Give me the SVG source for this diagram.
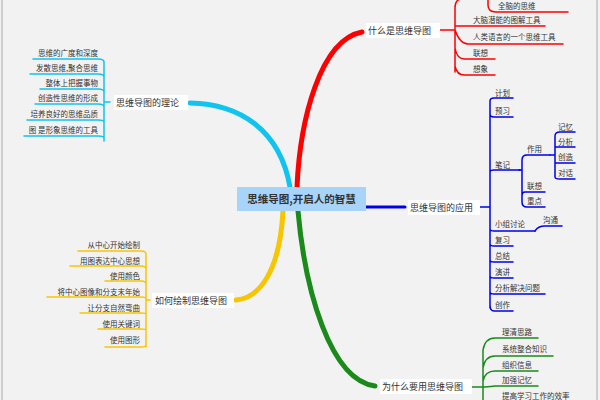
<svg xmlns="http://www.w3.org/2000/svg" width="600" height="400" viewBox="0 0 600 400">
<style>
text{font-family:"Noto Sans CJK SC",sans-serif;fill:#333}
.s{font-size:7.5px}
.m{font-size:9px}
.c{fill:none;stroke-linecap:round}
.r{stroke:#f00}.b{stroke:#00e}.y{stroke:#f7c600}.g{stroke:#1a8a1a}.k{stroke:#11c4f0}
.u{stroke-width:1.5}
.lb{fill:#fff}
</style>
<rect width="600" height="400" fill="#f2f2f2"/>
<line x1="2" y1="0" x2="2" y2="400" stroke="#aaa"/>
<line x1="597" y1="0" x2="597" y2="400" stroke="#aaa"/>
<g id="connectors">
<path class="c r" d="M297 187 C300 120 320 40 362 32" stroke-width="5"/>
<path class="c k" d="M290 187 C280 130 240 104 190 103" stroke-width="5"/>
<path class="c b" d="M366 207 L405 207" stroke-width="3"/>
<path class="c y" d="M283 211 C280 270 260 298 236 300" stroke-width="5"/>
<path class="c g" d="M298 211 C305 290 330 380 375 386" stroke-width="5"/>
<!-- red -->
<path class="c r u" d="M440 30 L455 30 M455 8 L455 72 M455 8 Q455 -2 465 -2 M455 26 L545 26 M455 30 Q460 44 468 44 L563 44 M455 48 Q457 60 466 59 L495 59 M455 66 Q457 76 466 75 L495 75 M488 -5 L488 5 Q488 12 496 12 L568 12"/>
<!-- cyan -->
<path class="c k u" d="M110 102 L104 102 M104 62 L104 141 M104 62 Q104 59 98 59 L33 59 M104 77 Q104 74 98 74 L30 74 M104 92 Q104 89 98 89 L40 89 M104 107 Q104 104 98 104 L35 104 M104 122 Q104 120 98 120 L27 120 M104 138 Q104 136 98 136 L24 136"/>
<!-- blue -->
<path class="c b u" d="M480 207 L490 207 M490 101 L490 308 M490 101 Q490 98 494 98 L513 98 M490 114 Q490 117 494 117 L513 117 M490 172 Q490 170 494 170 L520 170 M490 229 Q490 231 494 231 L535 231 M490 244 Q490 246 494 246 L513 246 M490 260 Q490 262 494 262 L513 262 M490 276 Q490 278 494 278 L513 278 M490 292 Q490 294 494 294 L545 294 M490 305 Q490 311 494 311 L513 311"/>
<path class="c b u" d="M519 170 L522 170 M522 160 Q522 155 527 155 L550 155 M522 160 L522 196 Q522 192 525 192 L545 192 M522 196 L522 202 Q522 207 527 207 L545 207"/>
<path class="c b u" d="M550 155 L555 155 M555 136 Q555 132 560 132 L575 132 M555 136 L555 177 M555 147 L575 147 M555 163 L575 163 M555 177 Q555 179 560 179 L575 179"/>
<path class="c b u" d="M535 231 Q538 226 545 226 L562 226"/>
<!-- yellow -->
<path class="c y u" d="M150 300 L146 300 M146 254 L146 347 M146 254 Q146 251 141 251 L78 251 M146 269 Q146 266 141 266 L70 266 M146 284 Q146 281 141 281 L105 281 M146 299 Q146 297 141 297 L47 297 M146 314 Q146 313 141 313 L80 313 M146 330 Q146 329 141 329 L98 329 M146 345 Q146 347 141 347 L105 347"/>
<!-- green -->
<path class="c g u" d="M472 387 L483 387 M483 350 L483 400 M483 350 Q485 338 495 338 L538 338 M483 368 Q485 356 495 356 L553 356 M483 381 Q485 371 495 371 L538 371 M483 387 Q486 387 495 386 L538 386"/>
</g>
<g id="center"><rect x="237" y="187" width="129" height="24" fill="#a8d4fa"/><text x="301.5" y="203" text-anchor="middle" font-size="10.5" font-weight="bold" fill="#334">思维导图,开启人的智慧</text></g>
<g id="red"><rect class="lb" x="366" y="23" width="74" height="15"/><text class="m" x="368" y="34">什么是思维导图</text>
<text class="s" x="498" y="9">全脑的思维</text><text class="s" x="473" y="23">大脑潜能的图解工具</text><text class="s" x="473" y="40">人类语言的一个思维工具</text><text class="s" x="473" y="56">联想</text><text class="s" x="473" y="72">想象</text></g>
<g id="cyan"><rect class="lb" x="114" y="95" width="74" height="15"/><text class="m" x="116" y="106">思维导图的理论</text>
<g text-anchor="end"><text class="s" x="98" y="56">思维的广度和深度</text><text class="s" x="98" y="71">发散思维,聚合思维</text><text class="s" x="98" y="86">整体上把握事物</text><text class="s" x="98" y="101">创造性思维的形成</text><text class="s" x="98" y="117">培养良好的思维品质</text><text class="s" x="98" y="133">图 是形象思维的工具</text></g></g>
<g id="blue"><rect class="lb" x="408" y="200" width="72" height="15"/><text class="m" x="410" y="211">思维导图的应用</text>
<text class="s" x="495" y="96">计划</text><text class="s" x="495" y="114">预习</text><text class="s" x="495" y="168">笔记</text><text class="s" x="495" y="227">小组讨论</text><text class="s" x="495" y="243">复习</text><text class="s" x="495" y="259">总结</text><text class="s" x="495" y="275">演讲</text><text class="s" x="495" y="291">分析解决问题</text><text class="s" x="495" y="308">创作</text>
<text class="s" x="527" y="152">作用</text><text class="s" x="527" y="189">联想</text><text class="s" x="527" y="204">重点</text>
<text class="s" x="558" y="130">记忆</text><text class="s" x="558" y="145">分析</text><text class="s" x="558" y="160">创造</text><text class="s" x="558" y="176">对话</text><text class="s" x="543" y="223">沟通</text></g>
<g id="yellow"><rect class="lb" x="152" y="293" width="82" height="15"/><text class="m" x="155" y="304">如何绘制思维导图</text>
<g text-anchor="end"><text class="s" x="140" y="248">从中心开始绘制</text><text class="s" x="140" y="264">用图表达中心思想</text><text class="s" x="140" y="279">使用颜色</text><text class="s" x="140" y="295">将中心图像和分支末年始</text><text class="s" x="140" y="311">让分支自然弯曲</text><text class="s" x="140" y="327">使用关键词</text><text class="s" x="140" y="343">使用图形</text></g></g>
<g id="green"><rect class="lb" x="380" y="379" width="92" height="15"/><text class="m" x="382" y="390">为什么要用思维导图</text>
<text class="s" x="502" y="335">理清思路</text><text class="s" x="502" y="352">系统整合知识</text><text class="s" x="502" y="368">组织信息</text><text class="s" x="502" y="383">加强记忆</text><text class="s" x="502" y="399">提高学习工作的效率</text></g>
</svg>
